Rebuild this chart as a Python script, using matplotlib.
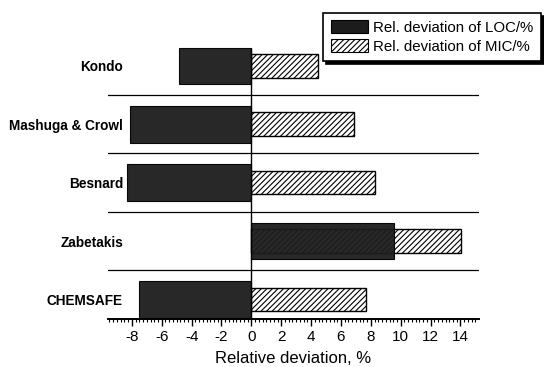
import numpy as np
import matplotlib
matplotlib.use('Agg')
import matplotlib.pyplot as plt
from matplotlib.patches import Patch
from matplotlib.ticker import MultipleLocator

plt.rcParams['font.family'] = ['Liberation Sans', 'DejaVu Sans']
plt.rcParams['hatch.linewidth'] = 0.8

# data
sources = ['Kondo', 'Mashuga & Crowl', 'Besnard', 'Zabetakis', 'CHEMSAFE']
loc_dev = [-4.85, -8.15, -8.3, 9.55, -7.55]
mic_dev = [4.45, 6.85, 8.3, 14.05, 7.7]
xticks = [-8, -6, -4, -2, 0, 2, 4, 6, 8, 10, 12, 14]

fig = plt.figure(figsize=(5.44, 3.67), dpi=100)
ax = fig.add_axes([0.1985, 0.130, 0.682, 0.770])

ypos = np.arange(len(sources))

# hatched MIC bars first, dark LOC bars over them
ax.barh(ypos, mic_dev, height=0.405, color='white', edgecolor='black',
        hatch='//////', linewidth=1.0, zorder=2)
ax.barh(ypos, loc_dev, height=0.625, color='#1c1c1c', edgecolor='black',
        linewidth=0.8, alpha=0.95, zorder=3)

for y in ypos[:-1] + 0.5:
    ax.axhline(y, color='black', lw=0.9, zorder=1)
ax.vlines(0, -0.31, 4.34, color='black', lw=1.0, zorder=4)

ax.set_xlim(-9.6, 15.24)
ax.set_ylim(4.34, -0.5)
ax.set_xticks(xticks)
ax.set_xticklabels([str(t) for t in xticks])
ax.xaxis.set_minor_locator(MultipleLocator(0.25))
ax.tick_params(axis='x', which='major', length=5, width=1.0, labelsize=11, pad=3)
ax.tick_params(axis='x', which='minor', length=2.5, width=0.8)

ax.set_yticks(ypos)
ax.set_yticklabels(sources, fontweight='bold', fontsize=9.8)
ax.tick_params(axis='y', length=0, pad=-10.8)

for s in ['top', 'left', 'right']:
    ax.spines[s].set_visible(False)
ax.spines['bottom'].set_linewidth(1.4)

ax.set_xlabel('Relative deviation, %', fontsize=12, labelpad=5)

handles = [Patch(facecolor='#1c1c1c', edgecolor='black', lw=0.8),
           Patch(facecolor='white', edgecolor='black', hatch='//////', lw=0.8)]
labels = ['Rel. deviation of LOC/%', 'Rel. deviation of MIC/%']
leg = fig.legend(handles, labels, loc='upper right',
                 bbox_to_anchor=(0.994, 0.965), fontsize=10.8,
                 frameon=True, fancybox=False, edgecolor='black',
                 shadow={'color': 'black', 'alpha': 1},
                 handlelength=2.5, handleheight=0.9, handletextpad=0.3,
                 labelspacing=0.3, borderpad=0.5, borderaxespad=0)
leg.get_frame().set_linewidth(1.2)

fig.savefig('out.png', dpi=100)
